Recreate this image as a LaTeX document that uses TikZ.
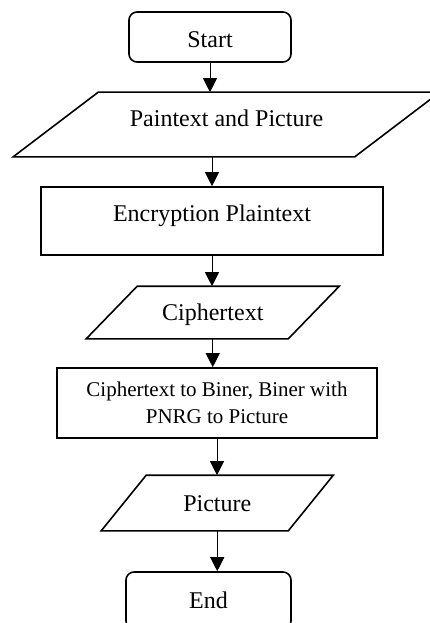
\documentclass[tikz,border=0pt]{standalone}
\usepackage{fontspec}
\setmainfont{Liberation Serif}
\usetikzlibrary{arrows.meta}

% parallelogram round a named node: #1 node, #2 half of the slant
\newcommand{\ioshape}[2]{%
    \draw[line width=1.6pt] ([xshift=-#2]#1.south west) -- ([xshift=#2]#1.north west)
        -- ([xshift=#2]#1.north east) -- ([xshift=-#2]#1.south east) -- cycle;}

\begin{document}
\begin{tikzpicture}[x=1pt, y=-1pt,
    every node/.style={font=\fontsize{24}{28}\selectfont, line width=1.6pt, text height=16pt, text depth=0pt},
    term/.style={draw, rounded corners=8pt, minimum width=162pt, minimum height=50pt},
    proc/.style={draw, minimum width=342pt, minimum height=68pt},
    io/.style={inner sep=0pt},
    arr/.style={line width=1pt, -{Triangle[length=14pt, width=14pt]}}]

    \useasboundingbox (0,0) rectangle (430,623);

    \node[term, text height=22pt] (start) at (210,37) {Start};
    \node[io, minimum width=340pt, minimum height=63pt, text depth=13pt] (input) at (226.5,124.5) {Paintext and Picture};
    \node[proc, text depth=16pt] (encrypt) at (212,221) {Encryption Plaintext};
    \node[io, minimum width=200.5pt, minimum height=51pt] (cipher) at (212.75,312.5) {Ciphertext};
    \node[proc, minimum width=320pt, minimum height=70pt, align=center,
          font=\fontsize{21}{27}\selectfont, text height=, text depth=] (embed) at (217,403)
          {Ciphertext to Biner, Biner with\\PNRG to Picture};
    \node[io, minimum width=185.5pt, minimum height=54pt] (picture) at (217.25,503) {Picture};
    \node[term, minimum width=165pt, minimum height=57pt] (end) at (208.5,600.5) {End};

    \ioshape{input}{42.5pt}
    \ioshape{cipher}{25.5pt}
    \ioshape{picture}{22.5pt}

    % flow
    \draw[arr] (start.south) -- (start.south |- input.north);
    \draw[arr] (encrypt.north |- input.south) -- (encrypt.north);
    \draw[arr] (encrypt.south) -- (encrypt.south |- cipher.north);
    \draw[arr] (cipher.south) -- (cipher.south |- embed.north);
    \draw[arr] (embed.south) -- (embed.south |- picture.north);
    \draw[arr] (picture.south) -- (picture.south |- end.north);
\end{tikzpicture}
\end{document}
